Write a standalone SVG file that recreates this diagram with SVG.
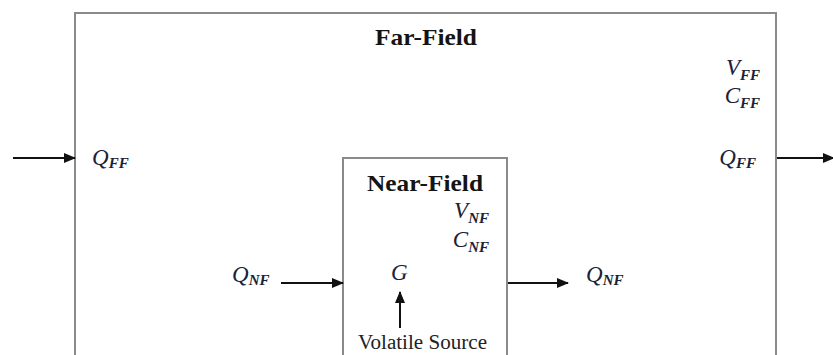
<svg xmlns="http://www.w3.org/2000/svg" width="833" height="355" viewBox="0 0 833 355">
  <defs>
    <marker id="arrow" markerWidth="12" markerHeight="10" refX="11" refY="5" orient="auto" markerUnits="userSpaceOnUse">
      <path d="M0,0 L12,5 L0,10 Z" fill="#111"/>
    </marker>
    <style>
      .box { fill: #fff; stroke: #8a8a8a; stroke-width: 2; }
      .flow { stroke: #111; stroke-width: 2; fill: none; marker-end: url(#arrow); }
      .title { font-weight: bold; font-size: 24px; fill: #141414; }
      .label { font-size: 20.5px; fill: #222; }
      .math { font-style: italic; font-size: 23px; fill: #1c2136; }
      .sub { font-size: 15px; font-weight: bold; }
    </style>
  </defs>

  <rect width="833" height="355" fill="#fff"/>

  <g font-family="Liberation Serif, Times New Roman, serif">
    <!-- outer compartment -->
    <g id="far-field">
      <path class="box" d="M75,370 V13 H776 V370"/>
      <text class="title" x="375" y="45" textLength="102" lengthAdjust="spacingAndGlyphs">Far-Field</text>
      <text class="math" x="760" y="75" text-anchor="end">V<tspan class="sub" dy="5">FF</tspan></text>
      <text class="math" x="760" y="103" text-anchor="end">C<tspan class="sub" dy="5">FF</tspan></text>
      <text class="math" x="756" y="165" text-anchor="end">Q<tspan class="sub" dy="3">FF</tspan></text>
      <text class="math" x="92" y="165">Q<tspan class="sub" dy="3">FF</tspan></text>
    </g>

    <!-- inner compartment -->
    <g id="near-field">
      <path class="box" d="M343,370 V158 H507 V370"/>
      <text class="title" x="367" y="191" textLength="116" lengthAdjust="spacingAndGlyphs">Near-Field</text>
      <text class="math" x="489" y="218" text-anchor="end">V<tspan class="sub" dy="5">NF</tspan></text>
      <text class="math" x="489" y="247" text-anchor="end">C<tspan class="sub" dy="5">NF</tspan></text>
      <text class="math" x="391" y="280">G</text>
    </g>

    <g id="source">
      <text class="label" x="358" y="349" textLength="129" lengthAdjust="spacingAndGlyphs">Volatile Source</text>
    </g>

    <g id="flow-labels">
      <text class="math" x="232" y="282">Q<tspan class="sub" dy="3">NF</tspan></text>
      <text class="math" x="586" y="282">Q<tspan class="sub" dy="3">NF</tspan></text>
    </g>
  </g>

  <!-- flows -->
  <g id="connectors">
    <line class="flow" x1="13" y1="158" x2="75" y2="158"/>
    <line class="flow" x1="777" y1="158" x2="834" y2="158"/>
    <line class="flow" x1="281" y1="283" x2="343" y2="283"/>
    <line class="flow" x1="508" y1="283" x2="568" y2="283"/>
    <line class="flow" x1="400" y1="328" x2="400" y2="292"/>
  </g>
</svg>
